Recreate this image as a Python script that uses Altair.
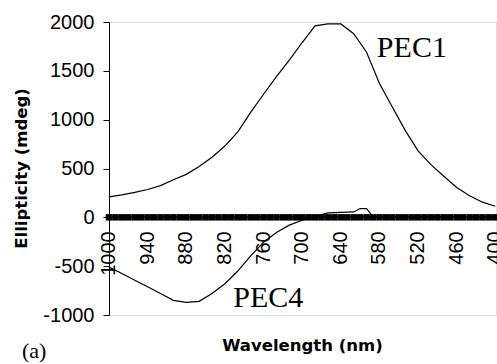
import altair as alt
import pandas as pd

# ---- data ----
pec1_nm = [1000, 980, 960, 940, 920, 900, 880, 860, 840, 820, 800, 780, 760, 740,
           720, 700, 680, 660, 640, 620, 600, 580, 560, 540, 520, 500, 480, 460,
           440, 420, 400]
pec1_mdeg = [210, 230, 255, 285, 325, 385, 440, 520, 615, 730, 875, 1075, 1260, 1440,
             1610, 1790, 1960, 1980, 1980, 1880, 1690, 1370, 1130, 890, 680, 540, 420, 305,
             220, 155, 113]

pec4_nm = [1000, 980, 960, 940, 920, 900, 880, 860, 840, 820, 800, 780, 760, 740,
           720, 700, 680, 660, 640, 620, 610, 600, 590, 580, 560, 540, 520, 500,
           480, 460, 440, 420, 400]
pec4_mdeg = [-510, -575, -645, -710, -780, -850, -870, -860, -780, -680, -550, -395, -255, -155,
             -80, -30, 10, 45, 50, 55, 90, 90, 5, 0, 0, 0, 0, 0,
             0, 0, 0, 0, 0]

base_nm = [1000, 990, 980, 970, 960, 950, 940, 930, 920, 910, 900, 890, 880, 870, 860,
           850, 840, 830, 820, 810, 800, 790, 780, 770, 760, 750, 740, 730, 720, 710,
           700, 690, 680, 670, 660, 650, 640, 630, 620, 610, 600, 590, 580, 570, 560,
           550, 540, 530, 520, 510, 500, 490, 480, 470, 460, 450, 440, 430, 420, 410,
           400]
base_mdeg = [0] * len(base_nm)

x_ticks = [1000, 940, 880, 820, 760, 700, 640, 580, 520, 460, 400]
y_ticks = [-1000, -500, 0, 500, 1000, 1500, 2000]

labels_text = ["PEC1", "PEC4"]
labels_nm = [584, 807]
labels_mdeg = [1641, -918]

# ---- chart ----
W, H = 387, 293
xs = alt.Scale(domain=[1000, 399], nice=False, zero=False)
ys = alt.Scale(domain=[-1000, 2000], nice=False, zero=False)

df_lines = pd.concat([
    pd.DataFrame({"nm": pec1_nm, "mdeg": pec1_mdeg, "series": "PEC1"}),
    pd.DataFrame({"nm": pec4_nm, "mdeg": pec4_mdeg, "series": "PEC4"}),
])
df_base = pd.DataFrame({"nm": base_nm, "mdeg": base_mdeg})
df_lab = pd.DataFrame({"nm": labels_nm, "mdeg": labels_mdeg, "text": labels_text})
df_xt = pd.DataFrame({"nm": x_ticks, "lab": [str(v) for v in x_ticks]})

x_axis = alt.Axis(values=x_ticks, domain=False, ticks=False, labels=False, grid=False, title=None)
y_axis = alt.Axis(values=y_ticks, grid=False, domain=True, domainColor="black", ticks=True,
                  tickSize=6, tickColor="black", labelFont="Liberation Sans", labelFontSize=20,
                  labelPadding=9, labelColor="black", labelOverlap=False,
                  labelExpr="datum.value < 0 ? '-' + (-datum.value) : '' + datum.value",
                  title=None)

lines = alt.Chart(df_lines).mark_line(color="black", strokeWidth=1.2).encode(
    x=alt.X("nm:Q", scale=xs, axis=x_axis),
    y=alt.Y("mdeg:Q", scale=ys, axis=y_axis),
    detail="series:N",
)

base_line = alt.Chart(df_base).mark_line(color="black", strokeWidth=1.5).encode(
    x=alt.X("nm:Q", scale=xs), y=alt.Y("mdeg:Q", scale=ys))
base_pts = alt.Chart(df_base).mark_point(shape="square", filled=True, size=42,
                                         color="black", opacity=1).encode(
    x=alt.X("nm:Q", scale=xs), y=alt.Y("mdeg:Q", scale=ys))

xtick_labels = alt.Chart(df_xt).mark_text(font="Liberation Sans", fontSize=20, angle=270,
                                          align="right", baseline="middle",
                                          color="black").encode(
    x=alt.X("nm:Q", scale=xs), y=alt.value(H * 2 / 3 + 14), text="lab:N")

series_labels = alt.Chart(df_lab).mark_text(font="Liberation Serif", fontSize=30,
                                            align="left", baseline="alphabetic",
                                            color="black").encode(
    x=alt.X("nm:Q", scale=xs), y=alt.Y("mdeg:Q", scale=ys), text="text:N")

panel = alt.Chart(pd.DataFrame({"t": ["(a)"]})).mark_text(
    font="Liberation Serif", fontSize=22, align="left", baseline="alphabetic",
    color="black").encode(x=alt.value(-87), y=alt.value(336), text="t:N")

xtitle = alt.Chart(pd.DataFrame({"t": ["Wavelength (nm)"]})).mark_text(
    font="DejaVu Sans", fontWeight="bold", fontSize=16.5, align="center",
    baseline="alphabetic", color="black").encode(
    x=alt.value(W / 2), y=alt.value(329), text="t:N")

ytitle = alt.Chart(pd.DataFrame({"t": ["Ellipticity (mdeg)"]})).mark_text(
    font="DejaVu Sans", fontWeight="bold", fontSize=16.5, align="center",
    baseline="middle", angle=270, color="black").encode(
    x=alt.value(-87), y=alt.value(H / 2), text="t:N")

chart = alt.layer(lines, base_line, base_pts, xtick_labels, series_labels, panel, xtitle,
                  ytitle).properties(
    width=W, height=H,
    autosize=alt.AutoSizeParams(type="none"),
    padding={"left": 109, "top": 22, "right": 1, "bottom": 49},
).configure_view(stroke="black", strokeWidth=1).configure(background="white")

chart.save("out.html", embed_options={"renderer": "svg", "actions": False})
